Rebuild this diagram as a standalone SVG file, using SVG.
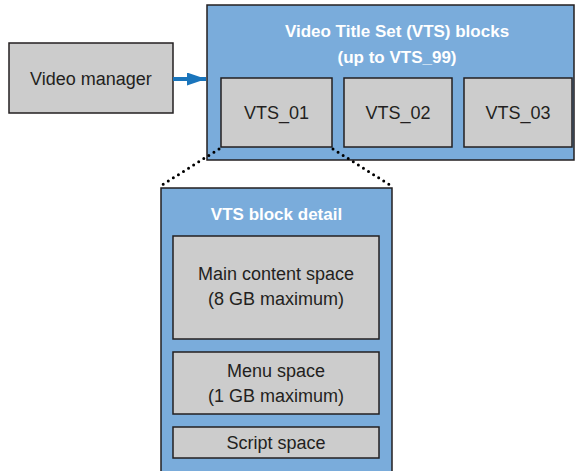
<svg xmlns="http://www.w3.org/2000/svg" width="576" height="471" viewBox="0 0 576 471">
<style>
.blue{fill:#7aacdb;stroke:#231f20;stroke-width:1.5}
.gray{fill:#cccccc;stroke:#231f20;stroke-width:1.5}
text{font-family:"Liberation Sans",Arial,sans-serif;font-size:18px;text-anchor:middle}
.dk{fill:#231f20}
.wt{fill:#ffffff;font-weight:bold;font-size:17px}
.dot{stroke:#000;stroke-width:3;stroke-linecap:round;stroke-dasharray:0 6;fill:none}
</style>
<defs>
<marker id="ah" markerWidth="19" markerHeight="13" refX="19" refY="6.5" orient="auto" markerUnits="userSpaceOnUse" viewBox="0 0 19 13">
<path d="M0,0 L19,6.5 L0,13 z" fill="#1a75bc"/>
</marker>
</defs>
<g id="vts-blocks">
<rect class="blue" x="207" y="5" width="367" height="155"/>
<text class="wt" x="397" y="37">Video Title Set (VTS) blocks</text>
<text class="wt" x="397" y="63">(up to VTS_99)</text>
</g>
<g id="video-manager">
<rect class="gray" x="9" y="43" width="164" height="70"/>
<text class="dk" x="91" y="85">Video manager</text>
</g>
<g id="vts01">
<rect class="gray" x="221" y="78" width="111" height="69"/>
<text class="dk" x="276.5" y="119">VTS_01</text>
</g>
<g id="vts02">
<rect class="gray" x="344" y="78" width="108" height="69"/>
<text class="dk" x="398" y="119">VTS_02</text>
</g>
<g id="vts03">
<rect class="gray" x="464" y="78" width="108" height="69"/>
<text class="dk" x="518" y="119">VTS_03</text>
</g>
<g id="detail">
<rect class="blue" x="161" y="188" width="231" height="290"/>
<text class="wt" x="276.5" y="220">VTS block detail</text>
</g>
<g id="main-content">
<rect class="gray" x="173" y="236" width="206" height="103"/>
<text class="dk" x="276" y="280">Main content space</text>
<text class="dk" x="276" y="305">(8 GB maximum)</text>
</g>
<g id="menu-space">
<rect class="gray" x="173" y="352" width="206" height="62"/>
<text class="dk" x="276" y="377">Menu space</text>
<text class="dk" x="276" y="402">(1 GB maximum)</text>
</g>
<g id="script-space">
<rect class="gray" x="173" y="427" width="206" height="31"/>
<text class="dk" x="276" y="449">Script space</text>
</g>
<g id="connectors">
<line x1="173" y1="79" x2="206" y2="79" stroke="#1a75bc" stroke-width="4" marker-end="url(#ah)"/>
<line class="dot" x1="219" y1="149" x2="162" y2="185"/>
<line class="dot" x1="333" y1="149" x2="390" y2="185"/>
</g>
</svg>
